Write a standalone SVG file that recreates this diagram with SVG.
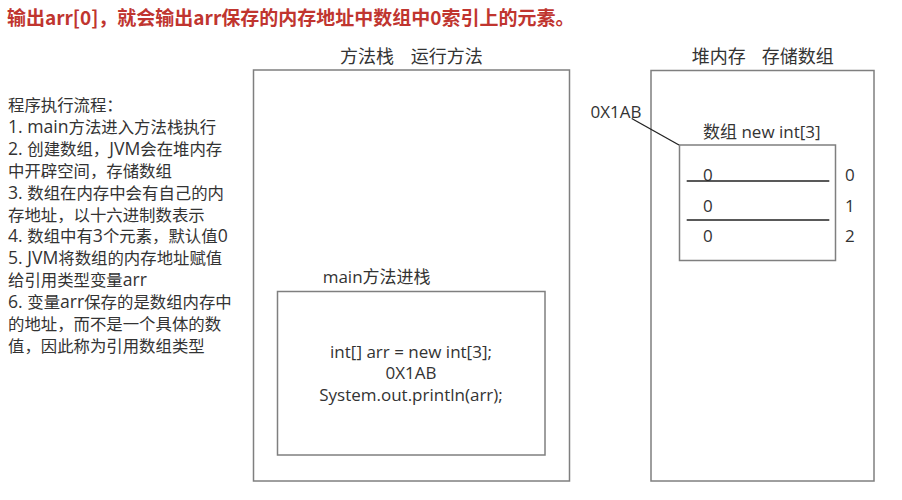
<svg xmlns="http://www.w3.org/2000/svg" width="902" height="500" viewBox="0 0 902 500">
<style>
.t{font-family:"Open Sans","Noto Sans CJK SC",sans-serif;fill:#333;font-size:17px}
.n{font-family:"Open Sans","Noto Sans CJK SC",sans-serif;fill:#333;font-size:16.4px}
.n .l{font-size:17.6px}
.h{font-family:"Noto Sans CJK SC",sans-serif;fill:#333;font-size:18px}
.title{font-family:"Noto Sans CJK SC",sans-serif;font-weight:bold;fill:#c0352f;font-size:19px}
.box{fill:none;stroke:#7f7f7f;stroke-width:1.5}
.ln{stroke:#222;stroke-width:1.3;fill:none}
</style>
<rect width="902" height="500" fill="#fff"/>
<text class="title" x="7" y="24.5">输出arr[0]，就会输出arr保存的内存地址中数组中0索引上的元素。</text>
<g id="notes">
<text class="n" x="8" y="111">程序执行流程：</text>
<text class="n" x="8" y="132.9"><tspan class="l">1. main</tspan>方法进入方法栈执行</text>
<text class="n" x="8" y="154.8"><tspan class="l">2. </tspan>创建数组，<tspan class="l">JVM</tspan>会在堆内存</text>
<text class="n" x="8" y="176.7">中开辟空间，存储数组</text>
<text class="n" x="8" y="198.6"><tspan class="l">3. </tspan>数组在内存中会有自己的内</text>
<text class="n" x="8" y="220.5">存地址，以十六进制数表示</text>
<text class="n" x="8" y="242.4"><tspan class="l">4. </tspan>数组中有<tspan class="l">3</tspan>个元素，默认值<tspan class="l">0</tspan></text>
<text class="n" x="8" y="264.3"><tspan class="l">5. JVM</tspan>将数组的内存地址赋值</text>
<text class="n" x="8" y="286.2">给引用类型变量<tspan class="l">arr</tspan></text>
<text class="n" x="8" y="308.1"><tspan class="l">6. </tspan>变量<tspan class="l">arr</tspan>保存的是数组内存中</text>
<text class="n" x="8" y="330">的地址，而不是一个具体的数</text>
<text class="n" x="8" y="351.9">值，因此称为引用数组类型</text>
</g>
<g id="stack">
<rect class="box" x="253.5" y="70" width="316" height="411"/>
<text class="h" x="340" y="63">方法栈</text>
<text class="h" x="410.7" y="63">运行方法</text>
</g>
<g id="main-frame">
<text class="t" x="322.7" y="283">main方法进栈</text>
<rect class="box" x="277.5" y="291.5" width="267.5" height="163.5"/>
<text class="t" x="411" y="358" text-anchor="middle">int[] arr = new int[3];</text>
<text class="t" x="411" y="379" text-anchor="middle">0X1AB</text>
<text class="t" x="411" y="401" text-anchor="middle">System.out.println(arr);</text>
</g>
<g id="heap">
<rect class="box" x="651" y="70.5" width="223" height="410.5"/>
<text class="h" x="691.7" y="63">堆内存</text>
<text class="h" x="761.7" y="63">存储数组</text>
</g>
<g id="array">
<text class="t" x="703" y="138">数组 new int[3]</text>
<rect class="box" x="679.5" y="145" width="156" height="115.5"/>
<text class="t" x="703" y="181">0</text>
<text class="t" x="703" y="212">0</text>
<text class="t" x="703" y="242">0</text>
<text class="t" x="845" y="181">0</text>
<text class="t" x="845" y="212">1</text>
<text class="t" x="845" y="242">2</text>
</g>
<g id="address">
<text class="t" x="590.5" y="118">0X1AB</text>
</g>
<g id="connectors">
<line class="ln" x1="686.7" y1="181" x2="829.3" y2="181"/>
<line class="ln" x1="686.7" y1="220" x2="829.3" y2="220"/>
<line class="ln" x1="631.7" y1="118.5" x2="679" y2="145"/>
</g>
</svg>
